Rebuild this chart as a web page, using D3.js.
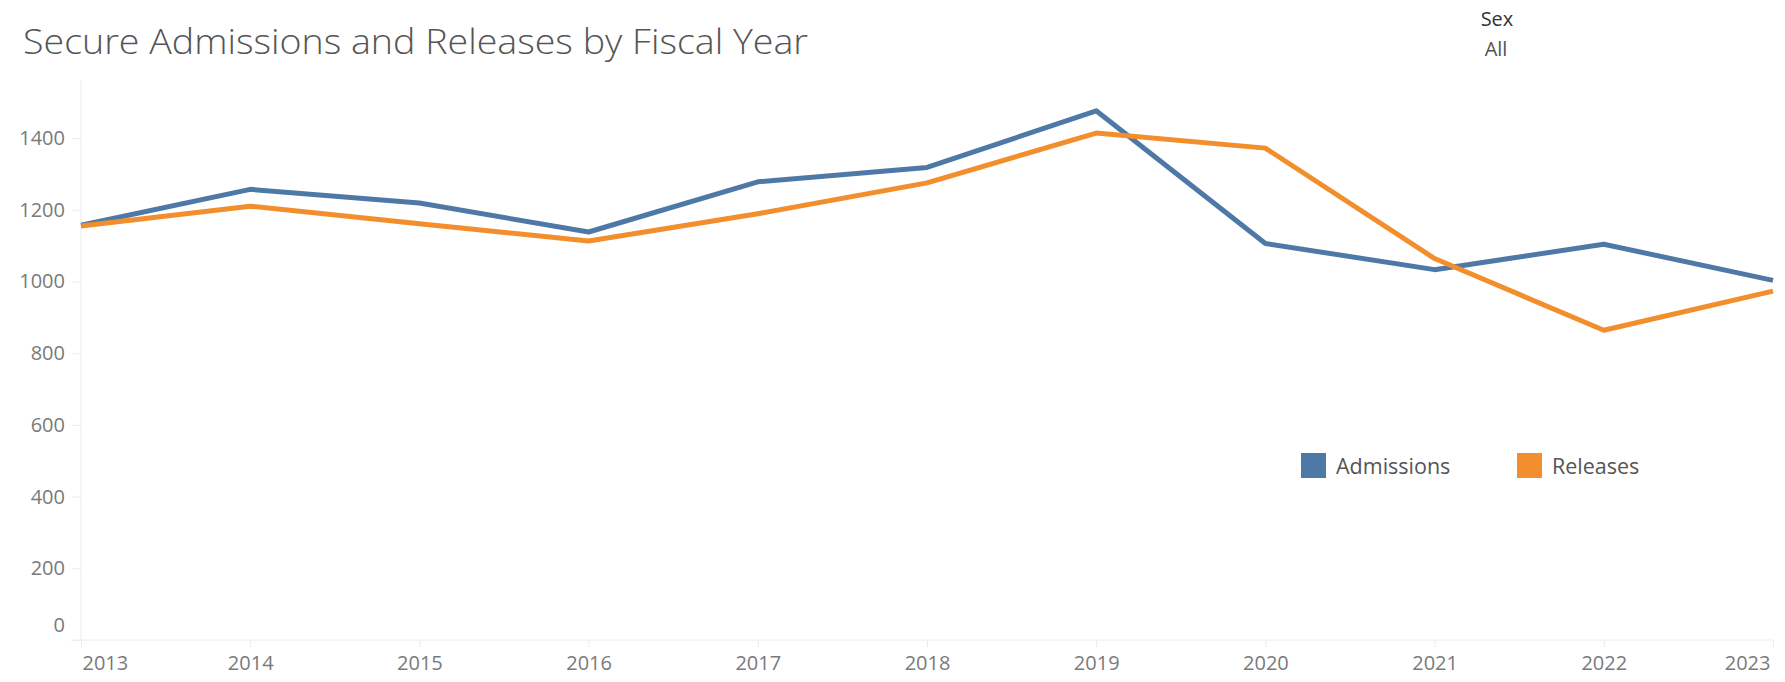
<!DOCTYPE html>
<html>
<head>
<meta charset="utf-8">
<script src="https://cdn.jsdelivr.net/npm/d3@7"></script>
<style>
  html, body { margin: 0; padding: 0; background: #fff; }
  svg { display: block; }
  text { font-family: "Open Sans", "Noto Sans", sans-serif; }
</style>
</head>
<body>
<svg id="chart" width="1785" height="682"></svg>
<script>
const years = [2013, 2014, 2015, 2016, 2017, 2018, 2019, 2020, 2021, 2022, 2023];
const admissions = [1157, 1257, 1219, 1138, 1278, 1318, 1476, 1106, 1033, 1104, 1003];
const releases = [1155, 1210, 1161, 1113, 1189, 1275, 1414, 1372, 1064, 864, 973];
const yTicks = [0, 200, 400, 600, 800, 1000, 1200, 1400];
const seriesNames = ["Admissions", "Releases"];
const seriesColors = ["#4e79a7", "#f28e2b"];

const svg = d3.select("#chart");
const plotLeft = 81, plotRight = 1773, plotTop = 80, plotBottom = 640;

const x = d3.scaleLinear().domain([2013, 2023]).range([plotLeft, plotRight]);
const y = d3.scaleLinear().domain([0, 1562]).range([plotBottom, plotTop]);

// Title
svg.append("text")
  .attr("x", 23).attr("y", 54)
  .attr("font-size", 34)
  .attr("font-weight", 300)
  .attr("fill", "#555")
  .attr("textLength", 785)
  .attr("lengthAdjust", "spacingAndGlyphs")
  .text("Secure Admissions and Releases by Fiscal Year");

// Filter label
svg.append("text").attr("x", 1497).attr("y", 26).attr("text-anchor", "middle")
  .attr("font-size", 20).attr("fill", "#333").text("Sex");
svg.append("text").attr("x", 1496).attr("y", 56).attr("text-anchor", "middle")
  .attr("font-size", 20).attr("fill", "#555").text("All");

// Y axis
const yAxis = d3.axisLeft(y).tickValues(yTicks).tickSize(9).tickPadding(7).tickFormat(d3.format("d"));
const gy = svg.append("g").attr("transform", `translate(${plotLeft},0)`).call(yAxis);
gy.select(".domain").attr("stroke", "#ececec").attr("d", `M0,${plotTop}V${plotBottom}`);
gy.selectAll(".tick line").attr("stroke", "#ececec");
gy.selectAll(".tick text").attr("font-size", 20).attr("fill", "#7a7a7a")
  .attr("font-family", "'Open Sans', sans-serif");
gy.selectAll(".tick").filter(d => d === 0).select("text").attr("dy", "-0.45em");

// X axis
const xAxis = d3.axisBottom(x).tickValues(years).tickSize(7).tickPadding(9).tickFormat(d3.format("d"));
const gx = svg.append("g").attr("transform", `translate(0,${plotBottom})`).call(xAxis);
gx.select(".domain").attr("stroke", "#ececec").attr("d", `M${plotLeft - 10},0H${plotRight}`);
gx.selectAll(".tick line").attr("stroke", "#ececec");
gx.selectAll(".tick text").attr("font-size", 20).attr("fill", "#7a7a7a")
  .attr("font-family", "'Open Sans', sans-serif")
  .attr("text-anchor", d => d === 2013 ? "start" : (d === 2023 ? "end" : "middle"))
  .attr("dx", d => d === 2013 ? 1 : (d === 2023 ? -3 : 0));

// Lines
const line = d3.line().x((d, i) => x(years[i])).y(d => y(d));
[admissions, releases].forEach((vals, k) => {
  svg.append("path")
    .datum(vals)
    .attr("d", line)
    .attr("fill", "none")
    .attr("stroke", seriesColors[k])
    .attr("stroke-width", 5)
    .attr("stroke-linejoin", "round");
});

// Legend
const legX = [1301, 1517];
seriesNames.forEach((name, k) => {
  svg.append("rect").attr("x", legX[k]).attr("y", 453).attr("width", 25).attr("height", 25)
    .attr("fill", seriesColors[k]);
  svg.append("text").attr("x", legX[k] + 35).attr("y", 466).attr("dy", "0.35em")
    .attr("font-size", 21.5).attr("fill", "#555").text(name);
});
</script>
</body>
</html>
